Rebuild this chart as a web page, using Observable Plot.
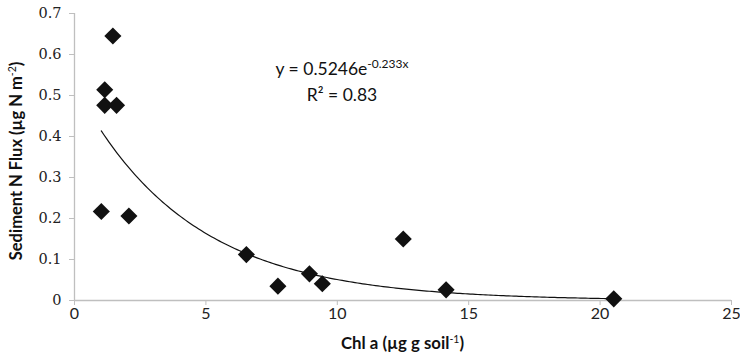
<!DOCTYPE html>
<html><head><meta charset="utf-8">
<script src="https://cdn.jsdelivr.net/npm/d3@7"></script>
<script src="https://cdn.jsdelivr.net/npm/@observablehq/plot@0.6"></script>
<style>
body{margin:0;background:#fff}
svg{display:block}
g[aria-label="y-axis tick label"]{font-family:"DejaVu Serif",serif;font-size:14.5px;fill:#222}
g[aria-label="x-axis tick label"]{font-family:Lato,sans-serif;font-size:16px;fill:#222}
</style>
</head><body><div id="chart"></div>
<script>
// Data
const chlA  = [1.02, 1.15, 1.15, 1.46, 1.60, 2.07, 6.54, 7.74, 8.94, 9.43, 12.51, 14.14, 20.52];
const nFlux = [0.217, 0.514, 0.476, 0.645, 0.476, 0.206, 0.112, 0.035, 0.065, 0.041, 0.150, 0.026, 0.004];
const xTicks = [0, 5, 10, 15, 20, 25];
const xTickLabels = ["0", "5", "10", "15", "20", "25"];
const yTicks = [0, 0.1, 0.2, 0.3, 0.4, 0.5, 0.6, 0.7];
const yTickLabels = ["0", "0.1", "0.2", "0.3", "0.4", "0.5", "0.6", "0.7"];
// Exponential trendline shown on the chart
const fitA = 0.5246, fitB = -0.233, fitR2 = "0.83";
const eqMain = "y = 0.5246e", eqSup = "-0.233x";

const points = chlA.map((x, i) => ({x, y: nFlux[i]}));
const xMin = d3.min(chlA), xMax = d3.max(chlA);
const trend = d3.range(0, 201).map(i => {
  const x = xMin + (xMax - xMin) * i / 200;
  return {x, y: fitA * Math.exp(fitB * x)};
});

const plot = Plot.plot({
  width: 740, height: 356,
  marginLeft: 74, marginRight: 9, marginTop: 13, marginBottom: 56,
  x: {domain: [0, 25]},
  y: {domain: [0, 0.7]},
  marks: [
    Plot.ruleX([0], {stroke: "#bfbfbf", strokeWidth: 1.3}),
    Plot.ruleY([0], {stroke: "#bfbfbf", strokeWidth: 1.3}),
    Plot.axisY({ticks: yTicks, tickFormat: d => yTickLabels[yTicks.indexOf(d)], tickSize: 5, tickPadding: 8, stroke: "#bfbfbf", label: null}),
    Plot.axisX({ticks: xTicks, tickFormat: d => xTickLabels[xTicks.indexOf(d)], tickSize: 5, tickPadding: 2, stroke: "#bfbfbf", label: null}),
    Plot.line(trend, {x: "x", y: "y", stroke: "#111", strokeWidth: 1.2}),
    Plot.dot(points, {x: "x", y: "y", symbol: "diamond2", r: 7.7, fill: "#111", stroke: "none"})
  ]
});
document.getElementById("chart").appendChild(plot);

const svg = d3.select(plot);
const sx = plot.scale("x"), sy = plot.scale("y");
// Equation annotation
const eqX = 342;
const t1 = svg.append("text").attr("x", eqX).attr("y", 75).attr("text-anchor", "middle")
  .attr("font-family", "Lato, sans-serif").attr("font-size", 17.5).attr("fill", "#111");
t1.append("tspan").text(eqMain);
t1.append("tspan").attr("dy", -7).attr("font-size", 12).text(eqSup);
const t2 = svg.append("text").attr("x", eqX).attr("y", 101).attr("text-anchor", "middle")
  .attr("font-family", "Lato, sans-serif").attr("font-size", 17.5).attr("fill", "#111");
t2.text("R² = " + fitR2);

// Axis titles
const xc = (sx.range[0] + sx.range[1]) / 2;
const xt = svg.append("text").attr("x", xc).attr("y", 349).attr("text-anchor", "middle")
  .attr("font-family", "Lato, sans-serif").attr("font-size", 16.8).attr("font-weight", "bold").attr("fill", "#111");
xt.append("tspan").text("Chl a (µg g soil");
xt.append("tspan").attr("dy", -6).attr("font-size", 10.5).attr("font-weight", "normal").text("-1");
xt.append("tspan").attr("dy", 6).text(")");

const yc = 161;
const yt = svg.append("text").attr("transform", `translate(22,${yc}) rotate(-90)`).attr("text-anchor", "middle")
  .attr("font-family", "Lato, sans-serif").attr("font-size", 16.5).attr("font-weight", "bold").attr("fill", "#111");
yt.append("tspan").text("Sediment N Flux (µg N m");
yt.append("tspan").attr("dy", -6).attr("font-size", 10.5).attr("font-weight", "normal").text("-2");
yt.append("tspan").attr("dy", 6).text(")");
</script>
</body></html>
